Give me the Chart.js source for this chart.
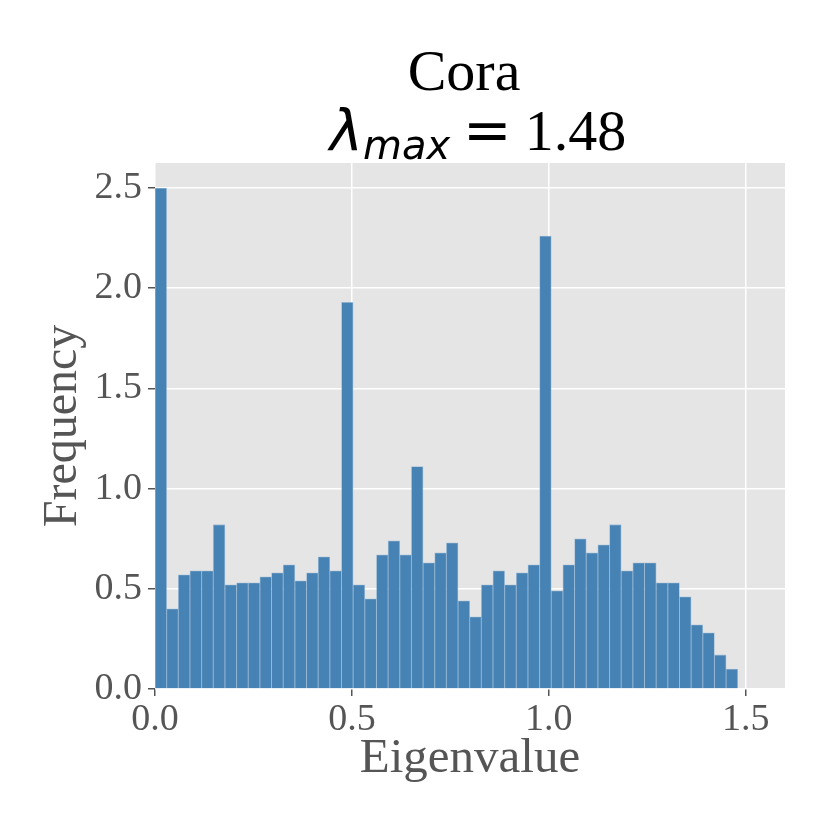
<!DOCTYPE html>
<html>
<head>
<meta charset="utf-8">
<script src="https://cdn.jsdelivr.net/npm/chart.js@4.4.0/dist/chart.umd.min.js"></script>
<style>
  html, body { margin: 0; padding: 0; background: #fff; }
  #wrap { width: 830px; height: 830px; }
</style>
</head>
<body>
<div id="wrap"><canvas id="myChart" width="830" height="830"></canvas></div>
<script>
	'use strict';

	// histogram of eigenvalues, 50 equal bins from 0 to lambda max
	var lambdaMax = 1.48;
	var nBins = 50;
	var freq = [2.50, 0.40, 0.57, 0.59, 0.59, 0.82, 0.52, 0.53, 0.53, 0.56,
	            0.58, 0.62, 0.54, 0.58, 0.66, 0.59, 1.93, 0.52, 0.45, 0.67,
	            0.74, 0.67, 1.11, 0.63, 0.68, 0.73, 0.44, 0.36, 0.52, 0.59,
	            0.52, 0.58, 0.62, 2.26, 0.49, 0.62, 0.75, 0.68, 0.72, 0.82,
	            0.59, 0.63, 0.63, 0.53, 0.53, 0.46, 0.32, 0.28, 0.17, 0.10];
	var xTicks = [0.0, 0.5, 1.0, 1.5];
	var yTicks = [0.0, 0.5, 1.0, 1.5, 2.0, 2.5];
	var titleName = 'Cora';
	var titleSym = 'λ';
	var titleSub = 'max';
	var titleEq = '=';
	var titleVal = '1.48';

	var binWidth = lambdaMax / nBins;
	var points = freq.map(function(v, i) {
		return { x: (i + 0.5) * binWidth, y: v };
	});

	var serif = '"Liberation Serif", "Times New Roman", serif';
	var sans = '"DejaVu Sans", sans-serif';

	var panelBg = {
		id: 'panelBg',
		beforeDraw: function(chart) {
			var a = chart.chartArea;
			var c = chart.ctx;
			c.save();
			c.fillStyle = '#e5e5e5';
			c.fillRect(a.left, a.top, a.right - a.left, a.bottom - a.top);
			c.restore();
		}
	};

	var titleLines = {
		id: 'titleLines',
		afterDraw: function(chart) {
			var c = chart.ctx;
			c.save();
			c.fillStyle = '#000';
			c.textBaseline = 'alphabetic';
			c.textAlign = 'left';

			c.font = '58px ' + serif;
			var w0 = c.measureText(titleName).width;
			c.fillText(titleName, 464 - w0 / 2, 90);

			var fSym = 'italic 56px ' + sans;
			var fSub = 'italic 40px ' + sans;
			var fEq = '58px ' + sans;
			var fVal = '58px ' + serif;
			c.font = fSym; var w1 = c.measureText(titleSym).width;
			c.font = fSub; var w2 = c.measureText(titleSub).width;
			c.font = fEq; var w3 = c.measureText(titleEq).width;
			c.font = fVal; var w4 = c.measureText(titleVal).width;
			var gap = 13;
			var total = w1 + w2 + gap + w3 + gap + w4;
			var x = 478 - total / 2;
			var base = 150;
			c.font = fSym; c.fillText(titleSym, x, base); x += w1;
			c.font = fSub; c.fillText(titleSub, x, base + 9); x += w2 + gap;
			c.font = fEq; c.fillText(titleEq, x, base); x += w3 + gap;
			c.font = fVal; c.fillText(titleVal, x, base);
			c.restore();
		}
	};

	var ctx = document.getElementById('myChart');

	var myChart = new Chart(ctx, {
		type: 'bar',
		data: {
			datasets: [{
				data: points,
				backgroundColor: '#4682b4',
				borderColor: 'rgba(110,160,205,0.55)',
				borderWidth: 0.8,
				barPercentage: 1,
				categoryPercentage: 1
			}]
		},
		options: {
			responsive: false,
			animation: false,
			devicePixelRatio: 1,
			layout: { padding: { top: 163, right: 45, bottom: 0, left: 0 } },
			plugins: {
				legend: { display: false },
				title: { display: false },
				tooltip: { enabled: false }
			},
			scales: {
				x: {
					type: 'linear',
					min: 0,
					max: 1.6,
					offset: false,
					afterFit: function(s) { s.height = 141; },
					afterBuildTicks: function(s) {
						s.ticks = xTicks.map(function(v) { return { value: v }; });
					},
					grid: { color: '#ffffff', lineWidth: 1.5, tickColor: '#555555', tickLength: 7, offset: false },
					border: { display: false },
					ticks: {
						color: '#555555',
						font: { family: serif, size: 38 },
						padding: 1,
						maxRotation: 0,
						callback: function(v) { return Number(v).toFixed(1); }
					},
					title: {
						display: true,
						text: 'Eigenvalue',
						color: '#555555',
						font: { family: serif, size: 49 },
						padding: { top: 0, bottom: 41 }
					}
				},
				y: {
					min: 0,
					max: 2.625,
					afterFit: function(s) { s.width = 155; },
					afterBuildTicks: function(s) {
						s.ticks = yTicks.map(function(v) { return { value: v }; });
					},
					grid: { color: '#ffffff', lineWidth: 1.5, tickColor: '#555555', tickLength: 7 },
					border: { display: false },
					ticks: {
						color: '#555555',
						font: { family: serif, size: 38 },
						padding: 6,
						callback: function(v) { return Number(v).toFixed(1); }
					},
					title: {
						display: true,
						text: 'Frequency',
						color: '#555555',
						font: { family: serif, size: 48 },
						padding: { top: 35, bottom: 0 }
					}
				}
			}
		},
		plugins: [panelBg, titleLines]
	});
</script>
</body>
</html>
